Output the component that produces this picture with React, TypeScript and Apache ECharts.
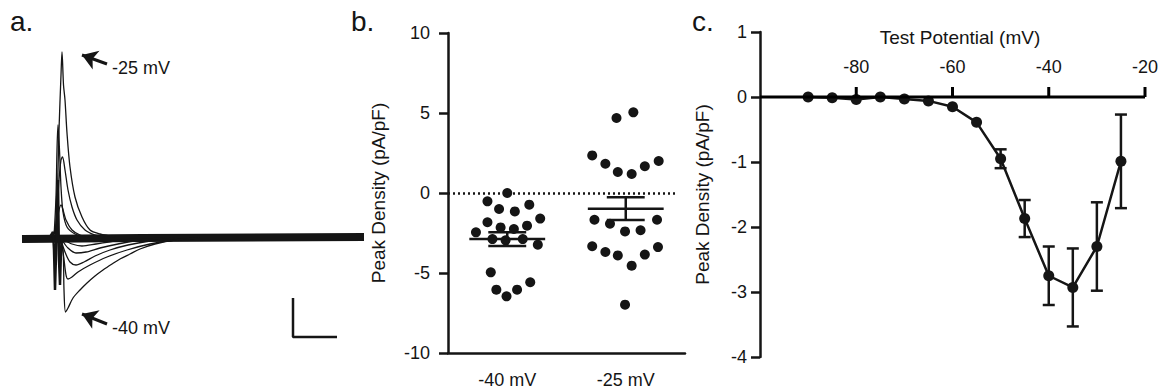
import React, { useEffect, useRef } from 'react';
import * as echarts from 'echarts';

const FONT = "'Liberation Sans', Arial, Helvetica, sans-serif";
const INK = '#151515';

// ---------- Panel a: current traces [time (a.u.), current (a.u.)] ----------
const baselineTrace = [[0, -2], [60, -1], [171, 0]];
const traceMinus25 = [[14, 0], [16.5, 5], [17.5, 32], [18.5, 107], [19.5, 162], [20, 185], [20.75, 152], [21.5, 137], [22.5, 104], [24, 70], [26.5, 40], [30, 20], [34, 7], [39, 3], [46.5, 0]];
const traceUp2 = [[15, 0], [17, 12], [18.5, 57], [19.5, 77], [20.25, 80], [21.5, 67], [23, 47], [25, 30], [27.5, 17], [31.5, 7], [36.5, 2], [41.5, 0]];
const traceUp3 = [[16, 0], [17, 40], [17.5, 87], [18, 112], [18.75, 87], [19.5, 50], [20.5, 25], [22.5, 10], [26.5, 3], [32, 0]];
const traceUp4 = [[16.5, 0], [18, 22], [19.5, 32], [22, 17], [25, 7], [29, 2], [34, 0]];
const traceMinus40 = [[19, -3], [20.5, -13], [21, -53], [21.75, -75], [23, -71], [25.5, -61], [29, -53], [32.5, -46], [36.5, -39], [40.5, -33], [45, -27], [49, -22], [54, -17], [59, -12], [66.5, -7], [76.5, -3], [89, -1]];
const traceDown2 = [[19, -3], [20.5, -15], [22, -38], [23, -42], [25, -40], [28, -35], [34, -28], [42.5, -20], [52.5, -13], [64, -7], [76.5, -3], [89, -1]];
const traceDown3 = [[19.5, -3], [21.5, -15], [24, -25], [27, -28], [31, -25], [36.5, -19], [44, -13], [53, -8], [64, -4], [76.5, -1]];
const traceDown4 = [[20, -3], [23, -11], [27, -16], [32, -15], [39, -11], [48, -7], [59, -3], [71.5, -1]];
const traceDown5 = [[21, -3], [25, -7], [30, -9], [37, -7], [46.5, -4], [59, -2]];
const artifactTrace = [[14, 0], [15.5, 5], [16, -13], [16.5, -53], [17, -18], [17.5, 37], [18, 57], [18.5, -23], [19, -48], [19.5, -13], [20, 0]];
const scaleBar = [[135.5, -61], [135.5, -100], [157.5, -100]];
const arrowUpper = [[42.5, 173], [30, 182]];
const arrowLower = [[42.5, -87], [30, -77]];

// ---------- Panel b: peak density per cell ----------
const bCategories = ['-40 mV', '-25 mV'];
const minus40Values = [0, -0.52, -1.0, -1.15, -0.73, -1.83, -2.15, -2.25, -2.04, -1.6, -2.46, -2.88, -2.96, -2.88, -3.23, -4.96, -6.04, -6.46, -6.04, -5.58];
const minus40Jitter = [0, -0.167, -0.069, 0.064, 0.186, -0.167, -0.056, 0.056, 0.167, 0.278, -0.264, -0.125, -0.014, 0.131, 0.258, -0.139, -0.092, -0.006, 0.083, 0.194];
const minus25Values = [4.69, 5.04, 2.35, 1.83, 1.31, 1.19, 1.67, 2.0, -1.67, -1.92, -2.4, -2.33, -1.67, -3.33, -3.69, -3.9, -4.54, -3.85, -3.38, -6.98];
const minus25Jitter = [-0.078, 0.064, -0.283, -0.172, -0.067, 0.05, 0.161, 0.278, -0.264, -0.133, -0.006, 0.125, 0.264, -0.283, -0.172, -0.067, 0.05, 0.161, 0.272, -0.006];
const bMeans = [-2.88, -0.98];
const bSems = [0.43, 0.71];

// ---------- Panel c: I-V relation ----------
const testPotentials = [-90, -85, -80, -75, -70, -65, -60, -55, -50, -45, -40, -35, -30, -25];
const ivMeans = [0, -0.01, -0.04, 0, -0.03, -0.06, -0.15, -0.39, -0.95, -1.87, -2.75, -2.93, -2.3, -0.99];
const ivSems = [0, 0, 0, 0, 0, 0, 0, 0, 0.145, 0.285, 0.45, 0.6, 0.68, 0.72];
const cXMin = -100;
const cXMax = -20;
const cXTicks = [-80, -60, -40, -20];
const cXAxisLine = [[cXMin, 0], [cXMax, 0]];
const cYMin = -4;
const cYMax = 1;

const axisLine = { lineStyle: { color: INK, width: 2.5 } };
const tickStyle = { color: INK, width: 2.5 };
const labelStyle = { color: INK, fontSize: 18, fontFamily: FONT };

export default function App() {
  const ref = useRef<HTMLDivElement>(null);
  useEffect(() => {
    if (!ref.current) return;
    const chart = echarts.init(ref.current, undefined, { renderer: 'svg' });

    const traceSeries = [traceMinus25, traceUp2, traceUp3, traceUp4, traceMinus40, traceDown2, traceDown3, traceDown4, traceDown5].map((d) => ({
      type: 'line', xAxisIndex: 0, yAxisIndex: 0, data: d, showSymbol: false, symbol: 'none', smooth: 0.3,
      lineStyle: { color: INK, width: 1.3 }, silent: true, z: 3,
    }));

    const gridBase = { outerBoundsMode: 'none', containLabel: false };

    const option: any = {
      animation: false,
      backgroundColor: '#ffffff',
      textStyle: { fontFamily: FONT },
      grid: [
        { ...gridBase, left: 22, top: 37, width: 342, height: 320 },
        { ...gridBase, left: 448, top: 33, width: 237, height: 320 },
        { ...gridBase, left: 760, top: 32, width: 385, height: 325 },
      ],
      xAxis: [
        { gridIndex: 0, type: 'value', min: 0, max: 171, show: false },
        {
          gridIndex: 1, type: 'category', data: bCategories,
          axisLine: { onZero: false, ...axisLine },
          axisTick: { alignWithLabel: true, length: 9, lineStyle: tickStyle },
          axisLabel: { ...labelStyle, margin: 18 }, splitLine: { show: false },
        },
        { gridIndex: 1, type: 'value', min: -0.5, max: 1.5, show: false },
        { gridIndex: 2, type: 'value', min: cXMin, max: cXMax, interval: 20, show: false },
      ],
      yAxis: [
        { gridIndex: 0, type: 'value', min: -120, max: 200, show: false },
        {
          gridIndex: 1, type: 'value', min: -10, max: 10, interval: 5,
          name: 'Peak Density (pA/pF)', nameLocation: 'middle', nameGap: 60,
          nameTextStyle: { color: INK, fontSize: 19, fontFamily: FONT },
          axisLine: { show: true, onZero: false, ...axisLine },
          axisTick: { show: true, length: 9, lineStyle: tickStyle },
          axisLabel: { ...labelStyle, margin: 18 }, splitLine: { show: false },
        },
        {
          gridIndex: 2, type: 'value', min: cYMin, max: cYMax, interval: 1,
          name: 'Peak Density (pA/pF)', nameLocation: 'middle', nameGap: 48,
          nameTextStyle: { color: INK, fontSize: 19, fontFamily: FONT },
          axisLine: { show: true, onZero: false, ...axisLine },
          axisTick: { show: true, length: 9, lineStyle: tickStyle },
          axisLabel: { ...labelStyle, margin: 13 }, splitLine: { show: false },
        },
      ],
      graphic: [
        { type: 'text', x: 10, y: 21, style: { text: 'a.', fontSize: 28, fontFamily: FONT, fill: INK, verticalAlign: 'middle' } },
        { type: 'text', x: 351, y: 21, style: { text: 'b.', fontSize: 28, fontFamily: FONT, fill: INK, verticalAlign: 'middle' } },
        { type: 'text', x: 692, y: 21, style: { text: 'c.', fontSize: 28, fontFamily: FONT, fill: INK, verticalAlign: 'middle' } },
        { type: 'text', x: 112, y: 68, style: { text: '-25 mV', fontSize: 18, fontFamily: FONT, fill: INK, verticalAlign: 'middle' } },
        { type: 'text', x: 112, y: 328, style: { text: '-40 mV', fontSize: 18, fontFamily: FONT, fill: INK, verticalAlign: 'middle' } },
        { type: 'text', x: 960, y: 37, style: { text: 'Test Potential (mV)', fontSize: 19, fontFamily: FONT, fill: INK, align: 'center', verticalAlign: 'middle' } },
      ],
      series: [
        {
          type: 'line', xAxisIndex: 0, yAxisIndex: 0, data: baselineTrace, showSymbol: false, symbol: 'none',
          lineStyle: { color: INK, width: 8 }, silent: true, z: 2,
          markLine: {
            silent: true, symbol: ['none', 'arrow'], symbolSize: 15, label: { show: false },
            lineStyle: { color: INK, width: 3, type: 'solid' },
            data: [
              [{ coord: arrowUpper[0] }, { coord: arrowUpper[1] }],
              [{ coord: arrowLower[0] }, { coord: arrowLower[1] }],
            ],
          },
        },
        ...traceSeries,
        {
          type: 'line', xAxisIndex: 0, yAxisIndex: 0, data: artifactTrace, showSymbol: false, symbol: 'none',
          lineStyle: { color: INK, width: 2.5 }, silent: true, z: 4,
        },
        {
          type: 'line', xAxisIndex: 0, yAxisIndex: 0, data: scaleBar, showSymbol: false, symbol: 'none',
          lineStyle: { color: INK, width: 2.5 }, silent: true,
        },
        {
          type: 'scatter', xAxisIndex: 2, yAxisIndex: 1, symbolSize: 10, itemStyle: { color: INK, opacity: 1 },
          data: minus40Values.map((v, i) => [0 + minus40Jitter[i], v]), z: 4,
          markLine: {
            silent: true, symbol: 'none', label: { show: false },
            lineStyle: { color: INK, width: 2.5, type: [2, 3] },
            data: [[{ coord: [-0.5, 0] }, { coord: [1.43, 0] }]],
          },
        },
        {
          type: 'scatter', xAxisIndex: 2, yAxisIndex: 1, symbolSize: 10, itemStyle: { color: INK, opacity: 1 },
          data: minus25Values.map((v, i) => [1 + minus25Jitter[i], v]), z: 4,
        },
        {
          type: 'custom', xAxisIndex: 2, yAxisIndex: 1, z: 5, silent: true,
          data: bMeans.map((m, i) => [i, m, bSems[i]]),
          renderItem: (params: any, api: any) => {
            const x = api.value(0), m = api.value(1), s = api.value(2);
            const c = api.coord([x, m]);
            const hi = api.coord([x, m + s]);
            const lo = api.coord([x, m - s]);
            const half = api.size([0.32, 0])[0];
            const cap = api.size([0.16, 0])[0];
            const st = { stroke: INK, lineWidth: 2.5 };
            return {
              type: 'group', children: [
                { type: 'line', shape: { x1: c[0] - half, y1: c[1], x2: c[0] + half, y2: c[1] }, style: st },
                { type: 'line', shape: { x1: c[0], y1: hi[1], x2: c[0], y2: lo[1] }, style: st },
                { type: 'line', shape: { x1: c[0] - cap, y1: hi[1], x2: c[0] + cap, y2: hi[1] }, style: st },
                { type: 'line', shape: { x1: c[0] - cap, y1: lo[1], x2: c[0] + cap, y2: lo[1] }, style: st },
              ],
            };
          },
        },
        {
          // x-axis line of panel c at y = 0
          type: 'line', xAxisIndex: 3, yAxisIndex: 2, z: 10, silent: true, clip: false,
          data: cXAxisLine, showSymbol: false, symbol: 'none',
          lineStyle: { color: '#000', width: 3 },
        },
        {
          // x-axis ticks and tick labels of panel c, on the y = 0 line
          type: 'custom', xAxisIndex: 3, yAxisIndex: 2, z: 10, silent: true, clip: false,
          data: cXTicks.map((v) => [v, 0]),
          renderItem: (params: any, api: any) => {
            const v = api.value(0);
            const p = api.coord([v, api.value(1)]);
            return {
              type: 'group', children: [
                { type: 'line', shape: { x1: p[0], y1: p[1], x2: p[0], y2: p[1] - 10 }, style: { stroke: '#000', lineWidth: 3 } },
                { type: 'text', x: p[0], y: p[1] - 30, style: { text: String(v), fontSize: 18, fontFamily: FONT, fill: INK, align: 'center', verticalAlign: 'middle' } },
              ],
            };
          },
        },
        {
          type: 'custom', xAxisIndex: 3, yAxisIndex: 2, z: 2, silent: true,
          data: testPotentials.map((v, i) => [v, ivMeans[i], ivSems[i]]).filter((d) => d[2] > 0),
          renderItem: (params: any, api: any) => {
            const x = api.value(0), m = api.value(1), s = api.value(2);
            const hi = api.coord([x, m + s]);
            const lo = api.coord([x, m - s]);
            const cap = 6;
            const st = { stroke: INK, lineWidth: 2.5 };
            return {
              type: 'group', children: [
                { type: 'line', shape: { x1: hi[0], y1: hi[1], x2: lo[0], y2: lo[1] }, style: st },
                { type: 'line', shape: { x1: hi[0] - cap, y1: hi[1], x2: hi[0] + cap, y2: hi[1] }, style: st },
                { type: 'line', shape: { x1: lo[0] - cap, y1: lo[1], x2: lo[0] + cap, y2: lo[1] }, style: st },
              ],
            };
          },
        },
        {
          type: 'line', xAxisIndex: 3, yAxisIndex: 2, z: 4, silent: true,
          data: testPotentials.map((v, i) => [v, ivMeans[i]]),
          symbol: 'circle', symbolSize: 11, showSymbol: true,
          itemStyle: { color: INK }, lineStyle: { color: INK, width: 2.5 },
        },
      ],
    };
    chart.setOption(option);
    return () => chart.dispose();
  }, []);
  return <div ref={ref} style={{ position: 'fixed', left: 0, top: 0, width: 1165, height: 391, background: '#fff' }} />;
}
